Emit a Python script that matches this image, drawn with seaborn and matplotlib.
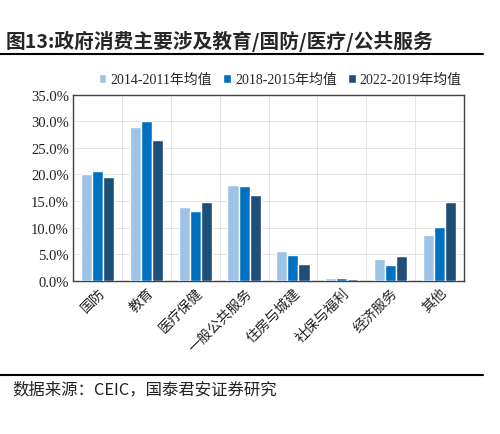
import pandas as pd
import seaborn as sns
import matplotlib.pyplot as plt
from matplotlib.lines import Line2D
from matplotlib.ticker import PercentFormatter

# dados
categorias = ['国防', '教育', '医疗保健', '一般公共服务', '住房与城建', '社保与福利', '经济服务', '其他']
series = ['2014-2011年均值', '2018-2015年均值', '2022-2019年均值']
v_2011_2014 = [20.0, 29.0, 13.8, 18.1, 5.6, 0.5, 4.1, 8.6]
v_2015_2018 = [20.6, 30.0, 13.1, 17.9, 4.9, 0.5, 2.9, 10.1]
v_2019_2022 = [19.5, 26.5, 14.9, 16.1, 3.2, 0.3, 4.7, 14.8]
cores = ['#9dc3e6', '#0070c0', '#1f4e79']

df = pd.DataFrame({
    'cat': categorias * 3,
    'serie': [series[0]] * 8 + [series[1]] * 8 + [series[2]] * 8,
    'valor': v_2011_2014 + v_2015_2018 + v_2019_2022,
})

sns.set_style('white')
plt.rcParams['font.family'] = ['Liberation Serif', 'Noto Sans CJK SC', 'DejaVu Sans']

fig = plt.figure(figsize=(5, 4.35), dpi=100)
ax = fig.add_axes([0.146, 0.352, 0.782, 0.428])

sns.barplot(data=df, x='cat', y='valor', hue='serie', palette=cores,
            width=0.68, saturation=1, ax=ax, zorder=3)

ax.set_ylim(0, 35)
ax.set_yticks([0, 5, 10, 15, 20, 25, 30, 35])
ax.yaxis.set_major_formatter(PercentFormatter(decimals=1))
ax.set_xlim(-0.5, 7.5)
ax.set_xlabel('')
ax.set_ylabel('')
ax.grid(axis='y', color='#e4e4e4', lw=0.7, zorder=0)
for i in range(1, 8):
    ax.axvline(i - 0.5, color='#e4e4e4', lw=0.7, zorder=0)
for s in ax.spines.values():
    s.set_color('#404040')
    s.set_linewidth(1.0)
ax.tick_params(axis='both', length=0, labelsize=10.5, colors='#222222', pad=3)
plt.setp(ax.get_xticklabels(), rotation=45, ha='right', rotation_mode='anchor',
         family=['Noto Sans CJK SC'], fontsize=10)

leg = ax.legend(loc='lower center', bbox_to_anchor=(0.53, 1.0), ncol=3, frameon=False,
                fontsize=10, handlelength=0.55, handleheight=0.55, handletextpad=0.3,
                columnspacing=0.8, borderaxespad=0.2)

# título e fonte
fig.text(0.012, 0.905, '图13:政府消费主要涉及教育/国防/医疗/公共服务', fontsize=14.2,
         fontweight='bold', family=['Noto Sans CJK SC'], va='center')
fig.add_artist(Line2D([0, 0.966], [0.873, 0.873], color='black', lw=1.5))
fig.add_artist(Line2D([0, 0.966], [0.136, 0.136], color='black', lw=1.5))
fig.text(0.024, 0.103, '数据来源：CEIC，国泰君安证券研究', fontsize=11.8,
         family=['Noto Sans CJK SC'], va='center', color='#222222')

plt.savefig('out.png', dpi=100)
